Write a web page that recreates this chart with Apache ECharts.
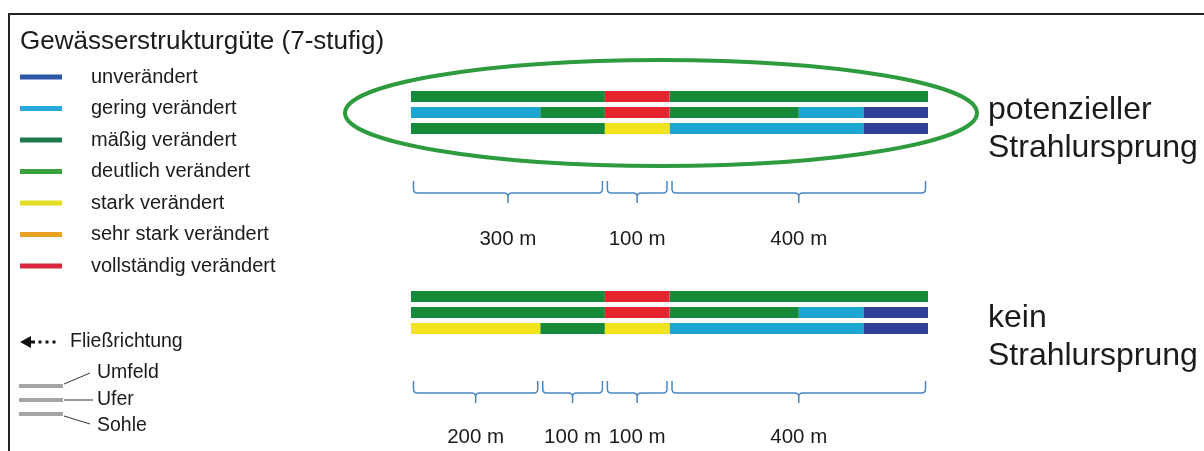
<!DOCTYPE html>
<html><head><meta charset="utf-8">
<script src="https://cdn.jsdelivr.net/npm/echarts@6/dist/echarts.min.js"></script>
<style>html,body{margin:0;padding:0;background:#fff}#c{width:1204px;height:451px}</style>
</head><body><div id="c"></div>
<script>
// ---- data ----
const classes = ['unverändert','gering verändert','mäßig verändert','deutlich verändert','stark verändert','sehr stark verändert','vollständig verändert'];
const rows = ['Umfeld','Ufer','Sohle'];
// [start m, end m, row index, class index]
const topSegments = [
  [0,300,0,2],[300,400,0,6],[400,800,0,2],
  [0,200,1,1],[200,300,1,2],[300,400,1,6],[400,600,1,2],[600,700,1,1],[700,800,1,0],
  [0,300,2,2],[300,400,2,4],[400,700,2,1],[700,800,2,0]
];
const bottomSegments = [
  [0,300,0,2],[300,400,0,6],[400,800,0,2],
  [0,300,1,2],[300,400,1,6],[400,600,1,2],[600,700,1,1],[700,800,1,0],
  [0,200,2,4],[200,300,2,2],[300,400,2,4],[400,700,2,1],[700,800,2,0]
];
const topBraces = [[0,300],[300,400],[400,800]];
const topBraceLabels = ['300 m','100 m','400 m'];
const bottomBraces = [[0,200],[200,300],[300,400],[400,800]];
const bottomBraceLabels = ['200 m','100 m','100 m','400 m'];
const groupLabels = ['potenzieller\nStrahlursprung','kein\nStrahlursprung'];
const titleText = 'Gewässerstrukturgüte (7-stufig)';
const flowText = 'Fließrichtung';

// ---- styles ----
const FONT = 'Liberation Sans, Arial, sans-serif';
const TXT = '#1b1b1b';
const barColors = ['#2d3f97','#1ba6d2','#168a3b','#3ca33c','#f2e41c','#ef9f1e','#e7242d'];
const legendColors = ['#2a58a6','#29a9dc','#1e7b50','#3aa23c','#e3e023','#eba123','#d9283d'];

function renderSeg(params, api){
  const s = api.coord([api.value(0), api.value(2)]);
  const e = api.coord([api.value(1), api.value(2)]);
  const h = api.size([0,1])[1]*0.69;
  return {type:'rect', shape:{x:s[0], y:s[1]-h/2, width:e[0]-s[0], height:h},
    style:{fill: api.visual('color')}};
}
function makeBrace(labels, labelOff){
  return function(params, api){
    const base = api.coord([0, 2])[1];
    const x0 = api.coord([api.value(0), 2])[0] + 2.5;
    const x1 = api.coord([api.value(1), 2])[0] - 2.5;
    const xm = (x0 + x1)/2;
    const yl = base + 64.5, yt = yl - 12, yc = yl + 10, r = 4;
    const d = `M${x0},${yt} L${x0},${yl-r} Q${x0},${yl} ${x0+r},${yl} L${xm-r},${yl} Q${xm},${yl} ${xm},${yl+r} L${xm},${yc} M${xm},${yl+r} Q${xm},${yl} ${xm+r},${yl} L${x1-r},${yl} Q${x1},${yl} ${x1},${yl-r} L${x1},${yt}`;
    return {type:'group', children:[
      {type:'path', shape:{pathData:d}, style:{fill:'none', stroke:'#4a86c4', lineWidth:1.5}},
      {type:'text', style:{text: labels[params.dataIndex], x: xm, y: base + labelOff, align:'center', verticalAlign:'middle',
        fontSize:20.5, fontFamily:FONT, fill:TXT}}
    ]};
  };
}

const series = [];
[topSegments, bottomSegments].forEach((segs, g) => {
  classes.forEach((name, c) => {
    series.push({type:'custom', name, xAxisIndex:g, yAxisIndex:g, silent:true,
      itemStyle:{color: barColors[c]}, encode:{x:[0,1], y:2},
      data: segs.filter(s => s[3] === c), renderItem: renderSeg});
  });
});
series.push({type:'custom', name:'braceTop', xAxisIndex:0, yAxisIndex:0, silent:true,
  encode:{x:[0,1]}, data: topBraces, renderItem: makeBrace(topBraceLabels, 111)});
series.push({type:'custom', name:'braceBottom', xAxisIndex:1, yAxisIndex:1, silent:true,
  encode:{x:[0,1]}, data: bottomBraces, renderItem: makeBrace(bottomBraceLabels, 109)});

const chart = echarts.init(document.getElementById('c'), null, {renderer:'canvas'});
chart.setOption({
  animation:false,
  backgroundColor:'#fff',
  grid:[
    {left:411, width:517, top:88.5, height:48},
    {left:411, width:517, top:288.5, height:48}
  ],
  xAxis:[
    {type:'value', gridIndex:0, min:0, max:800, show:false},
    {type:'value', gridIndex:1, min:0, max:800, show:false}
  ],
  yAxis:[
    {type:'category', gridIndex:0, data:rows, inverse:true, show:false},
    {type:'category', gridIndex:1, data:rows, inverse:true, show:false}
  ],
  legend:{orient:'vertical', left:20, top:67, padding:0, itemWidth:42, itemHeight:5, itemGap:11.5, icon:'rect',
    selectedMode:false,
    textStyle:{fontSize:20, lineHeight:20, color:TXT, fontFamily:FONT, padding:[0,0,0,24]},
    data: classes.map((n,i) => ({name:n, itemStyle:{color:legendColors[i]}}))},
  graphic:[
    {type:'rect', shape:{x:9, y:14, width:1400, height:600}, style:{fill:'none', stroke:'#222', lineWidth:2}, silent:true},
    {type:'text', style:{text:titleText, x:20, y:41.5, verticalAlign:'middle', fontSize:26, fontFamily:FONT, fill:TXT}},
    {type:'ellipse', shape:{cx:661, cy:113, rx:316, ry:53}, style:{fill:'none', stroke:'#2e9b3e', lineWidth:4}},
    {type:'text', style:{text:groupLabels[0], x:988, y:129, verticalAlign:'middle', fontSize:32, lineHeight:38, fontFamily:FONT, fill:TXT}},
    {type:'text', style:{text:groupLabels[1], x:988, y:337.5, verticalAlign:'middle', fontSize:32, lineHeight:38, fontFamily:FONT, fill:TXT}},
    // flow arrow
    {type:'polygon', shape:{points:[[20,342],[31,336],[31,348]]}, style:{fill:'#111'}},
    {type:'rect', shape:{x:30, y:340.5, width:5, height:3}, style:{fill:'#111'}},
    {type:'rect', shape:{x:38.5, y:340.5, width:3, height:3}, style:{fill:'#111'}},
    {type:'rect', shape:{x:45.5, y:340.5, width:3, height:3}, style:{fill:'#111'}},
    {type:'rect', shape:{x:52.5, y:340.5, width:3, height:3}, style:{fill:'#111'}},
    {type:'text', style:{text:flowText, x:70, y:342, verticalAlign:'middle', fontSize:19.5, fontFamily:FONT, fill:TXT}},
    // schematic
    {type:'rect', shape:{x:19, y:384, width:44, height:4}, style:{fill:'#a6a6a6'}},
    {type:'rect', shape:{x:19, y:398, width:44, height:4}, style:{fill:'#a6a6a6'}},
    {type:'rect', shape:{x:19, y:412, width:44, height:4}, style:{fill:'#a6a6a6'}},
    {type:'line', shape:{x1:64, y1:384, x2:90, y2:373}, style:{stroke:'#333', lineWidth:1}},
    {type:'line', shape:{x1:64, y1:400, x2:93, y2:400}, style:{stroke:'#333', lineWidth:1}},
    {type:'line', shape:{x1:64, y1:416, x2:90, y2:424}, style:{stroke:'#333', lineWidth:1}},
    {type:'text', style:{text:rows[0], x:97, y:373, verticalAlign:'middle', fontSize:19.5, fontFamily:FONT, fill:TXT}},
    {type:'text', style:{text:rows[1], x:97, y:400, verticalAlign:'middle', fontSize:19.5, fontFamily:FONT, fill:TXT}},
    {type:'text', style:{text:rows[2], x:97, y:426, verticalAlign:'middle', fontSize:19.5, fontFamily:FONT, fill:TXT}}
  ],
  series
});
</script></body></html>
